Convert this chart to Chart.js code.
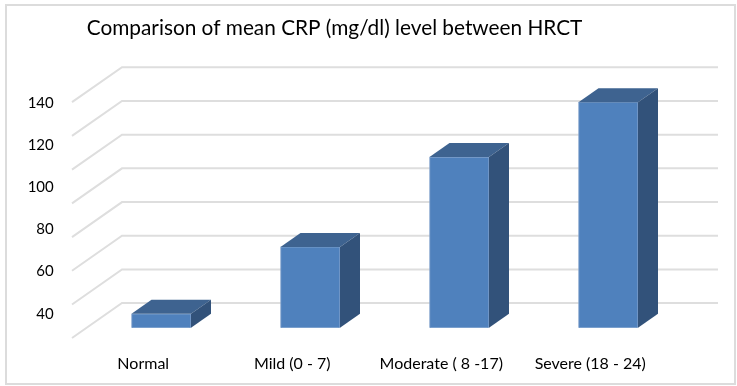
<!DOCTYPE html>
<html>
<head>
<meta charset="utf-8">
<script src="https://cdn.jsdelivr.net/npm/chart.js@4"></script>
<style>
  html, body { margin: 0; padding: 0; background: #fff; }
  #box { position: relative; width: 737px; height: 386px; }
  #frame { position: absolute; left: 5px; top: 4px; width: 727px; height: 377px; border: 2px solid #dcdcdc; }
  canvas { position: absolute; left: 0; top: 0; }
</style>
</head>
<body>
<div id="box">
  <div id="frame"></div>
  <canvas id="chart" width="737" height="386"></canvas>
</div>
<script>
const categories = ['Normal', 'Mild (0 - 7)', 'Moderate ( 8 -17)', 'Severe (18 - 24)'];
const crpValues = [40, 71.7, 114.4, 140.4];
const tickValues = [40, 60, 80, 100, 120, 140];
// the floor lines don't line up with the printed ticks in the original
const floorLines = [45.1, 61, 77, 93, 109, 125, 141, 157];

const AREA = { left: 86.75, right: 682.75, top: 60, bottom: 327.7 };
const PX_PER_UNIT = 2.107;
const Y_AT_40 = 313.75;
const yMin = 40 - (AREA.bottom - Y_AT_40) / PX_PER_UNIT;
const yMax = 40 + (Y_AT_40 - AREA.top) / PX_PER_UNIT;

// skewed grid + extruded bar faces
const fake3d = {
  id: 'fake3d',
  beforeDatasetsDraw(chart) {
    const { ctx, chartArea, scales } = chart;
    const backLeft = chartArea.left + 35.25;
    const backRight = chartArea.right + 35.25;
    ctx.save();
    ctx.strokeStyle = '#dedede';
    ctx.lineWidth = 2;
    floorLines.forEach(v => {
      const y = scales.y.getPixelForValue(v);
      ctx.beginPath();
      ctx.moveTo(backLeft - 50, y + 35);
      ctx.lineTo(backLeft, y);
      ctx.lineTo(backRight, y);
      ctx.stroke();
    });
    ctx.restore();
  },
  afterDatasetsDraw(chart) {
    const { ctx, chartArea } = chart;
    const dx = 20, dy = 14;
    ctx.save();
    chart.getDatasetMeta(0).data.forEach(bar => {
      const l = bar.x - bar.width / 2, r = bar.x + bar.width / 2;
      ctx.fillStyle = '#3e6390';
      ctx.beginPath();
      ctx.moveTo(l, bar.y);
      ctx.lineTo(l + dx, bar.y - dy);
      ctx.lineTo(r + dx, bar.y - dy);
      ctx.lineTo(r, bar.y);
      ctx.closePath();
      ctx.fill();
      ctx.fillStyle = '#32527a';
      ctx.beginPath();
      ctx.moveTo(r, bar.y);
      ctx.lineTo(r + dx, bar.y - dy);
      ctx.lineTo(r + dx, chartArea.bottom - dy);
      ctx.lineTo(r, chartArea.bottom);
      ctx.closePath();
      ctx.fill();
    });
    ctx.restore();
  }
};

new Chart(document.getElementById('chart'), {
  type: 'bar',
  data: {
    labels: categories,
    datasets: [{
      data: crpValues,
      backgroundColor: '#4f81bd',
      borderColor: '#7fa0cb',
      borderWidth: 1,
      barThickness: 59.5
    }]
  },
  options: {
    responsive: false,
    animation: false,
    layout: { padding: { right: 737 - AREA.right } },
    plugins: {
      legend: { display: false },
      tooltip: { enabled: false },
      title: {
        display: true,
        text: 'Comparison of mean CRP (mg/dl) level between HRCT',
        align: 'start',
        fullSize: false,
        color: '#000',
        font: { family: 'Lato', size: 20.8, weight: 'normal' },
        padding: { top: 16, bottom: 19 }
      }
    },
    scales: {
      x: {
        grid: { display: false },
        border: { display: false },
        afterFit(scale) { scale.height = 386 - AREA.bottom; },
        ticks: {
          color: '#000',
          font: { family: 'Lato', size: 16 },
          padding: 19,
          labelOffset: -18,
          maxRotation: 0,
          autoSkip: false
        }
      },
      y: {
        min: yMin,
        max: yMax,
        grid: { display: false },
        border: { display: false },
        afterBuildTicks(scale) { scale.ticks = tickValues.map(value => ({ value })); },
        afterFit(scale) { scale.width = AREA.left; },
        ticks: {
          color: '#000',
          font: { family: 'Lato', size: 15 },
          padding: 25
        }
      }
    }
  },
  plugins: [fake3d]
});
</script>
</body>
</html>
